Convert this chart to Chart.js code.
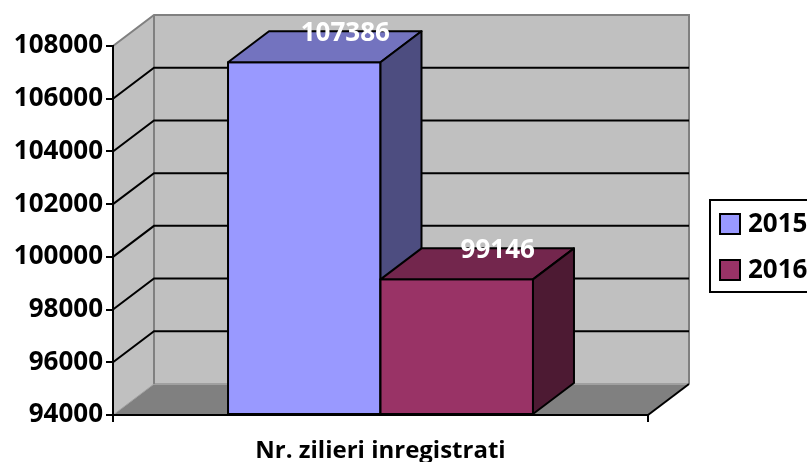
<!DOCTYPE html>
<html>
<head>
<meta charset="utf-8">
<script src="https://cdn.jsdelivr.net/npm/chart.js@4"></script>
<style>
  html, body { margin: 0; padding: 0; background: #fff; }
</style>
</head>
<body>
<canvas id="zilieriChart" width="807" height="462"></canvas>
<script>
const categories = ["Nr. zilieri inregistrati"];
const seriesNames = ["2015", "2016"];
const values2015 = [107386];
const values2016 = [99146];
const yMin = 94000;
const yMax = 108000;
const yStep = 2000;

const frontColors = ["#9999ff", "#993366"];
const topColors = ["#7373bf", "#73264d"];
const sideColors = ["#4d4d80", "#4d1a33"];

const depth = { dx: 41, dy: -31 };
const font = { family: "'Open Sans', sans-serif", weight: "bold", size: 26 };
const titleFont = { family: "'Open Sans', sans-serif", weight: "bold", size: 24 };
const fontStr = "bold 26px 'Open Sans', sans-serif";

const poly = (ctx, pts, fill, stroke, lw) => {
  ctx.beginPath();
  ctx.moveTo(pts[0][0], pts[0][1]);
  pts.slice(1).forEach((p) => ctx.lineTo(p[0], p[1]));
  ctx.closePath();
  if (fill) { ctx.fillStyle = fill; ctx.fill(); }
  if (stroke) { ctx.strokeStyle = stroke; ctx.lineWidth = lw; ctx.stroke(); }
};

const line = (ctx, pts, color, lw) => {
  ctx.beginPath();
  ctx.moveTo(pts[0][0], pts[0][1]);
  pts.slice(1).forEach((p) => ctx.lineTo(p[0], p[1]));
  ctx.strokeStyle = color;
  ctx.lineWidth = lw;
  ctx.stroke();
};

// walls, floor, gridlines, 3d bars, labels and the boxed legend
const box3d = {
  id: "box3d",
  beforeDatasetsDraw(chart) {
    const { ctx, chartArea: a, scales: { y } } = chart;
    const { dx, dy } = depth;
    const L = a.left, R = a.right, T = a.top, B = a.bottom;
    ctx.save();
    poly(ctx, [[L, T], [L + dx, T + dy], [L + dx, B + dy], [L, B]], "#c0c0c0");
    poly(ctx, [[L + dx, T + dy], [R + dx, T + dy], [R + dx, B + dy], [L + dx, B + dy]], "#c0c0c0");
    poly(ctx, [[L, B], [R, B], [R + dx, B + dy], [L + dx, B + dy]], "#808080");
    line(ctx, [[L + dx, B + dy], [R + dx, B + dy]], "#a0a0a0", 2);
    line(ctx, [[L, T], [L + dx, T + dy], [R + dx, T + dy], [R + dx, B + dy]], "#808080", 2);
    line(ctx, [[L + dx, T + dy], [L + dx, B + dy]], "#808080", 2);
    line(ctx, [[L, B], [L + dx, B + dy]], "#a0a0a0", 1);
    for (let v = yMin + yStep; v < yMax; v += yStep) {
      const py = y.getPixelForValue(v);
      line(ctx, [[L, py], [L + dx, py + dy], [R + dx, py + dy]], "#000", 2);
    }
    line(ctx, [[R, B], [R + dx, B + dy]], "#000", 2);
    ctx.restore();
  },
  afterDatasetsDraw(chart) {
    const { ctx } = chart;
    const { dx, dy } = depth;
    ctx.save();
    ctx.lineJoin = "round";
    const labels = [];
    chart.data.datasets.forEach((ds, i) => {
      chart.getDatasetMeta(i).data.forEach((el, j) => {
        const { x, y, base, width } = el.getProps(["x", "y", "base", "width"], true);
        const l = x - width / 2, r = x + width / 2;
        poly(ctx, [[l, y], [r, y], [r, base], [l, base]], frontColors[i], "#000", 2);
        poly(ctx, [[l, y], [l + dx, y + dy], [r + dx, y + dy], [r, y]], topColors[i], "#000", 2);
        poly(ctx, [[r, y], [r + dx, y + dy], [r + dx, base + dy], [r, base]], sideColors[i], "#000", 2);
        labels.push([String(ds.data[j]), x + dx, y + dy + 2]);
      });
    });
    ctx.font = fontStr;
    ctx.fillStyle = "#fff";
    ctx.textAlign = "center";
    ctx.textBaseline = "middle";
    labels.forEach(([t, lx, ly]) => ctx.fillText(t, lx, ly));
    ctx.restore();
  },
  afterDraw(chart) {
    const { ctx } = chart;
    ctx.save();
    ctx.fillStyle = "#fff";
    ctx.fillRect(710, 200, 120, 92);
    ctx.strokeStyle = "#000";
    ctx.lineWidth = 2;
    ctx.strokeRect(710, 200, 120, 92);
    ctx.font = fontStr;
    ctx.textAlign = "left";
    ctx.textBaseline = "middle";
    chart.data.datasets.forEach((ds, i) => {
      const cy = 224 + i * 46;
      ctx.fillStyle = frontColors[i];
      ctx.fillRect(720, cy - 10, 20, 20);
      ctx.strokeRect(720, cy - 10, 20, 20);
      ctx.fillStyle = "#000";
      ctx.fillText(ds.label, 748, cy + 1);
    });
    ctx.restore();
  }
};

new Chart(document.getElementById("zilieriChart"), {
  type: "bar",
  data: {
    labels: categories,
    datasets: [
      { label: seriesNames[0], data: values2015, backgroundColor: frontColors[0], base: yMin },
      { label: seriesNames[1], data: values2016, backgroundColor: frontColors[1], base: yMin }
    ]
  },
  options: {
    responsive: false,
    animation: false,
    devicePixelRatio: 1,
    layout: { padding: { top: 46, right: 159, left: 0, bottom: 0 } },
    categoryPercentage: 0.57,
    barPercentage: 1,
    plugins: {
      legend: { display: false },
      tooltip: { enabled: false }
    },
    scales: {
      x: {
        afterFit: (s) => { s.height = 47; },
        grid: { offset: true, drawOnChartArea: false, tickLength: 7, color: "#000", lineWidth: 2, z: 1 },
        border: { color: "#000", width: 2, z: 1 },
        ticks: { color: "#000", font: titleFont, padding: 15 }
      },
      y: {
        min: yMin,
        max: yMax,
        afterFit: (s) => { s.width = 113; },
        grid: { drawOnChartArea: false, tickLength: 7, color: "#000", lineWidth: 2, z: 1 },
        border: { color: "#000", width: 2, z: 1 },
        ticks: { stepSize: yStep, color: "#000", font: font, padding: 3, callback: (v) => String(v) }
      }
    }
  },
  plugins: [box3d]
});
</script>
</body>
</html>
